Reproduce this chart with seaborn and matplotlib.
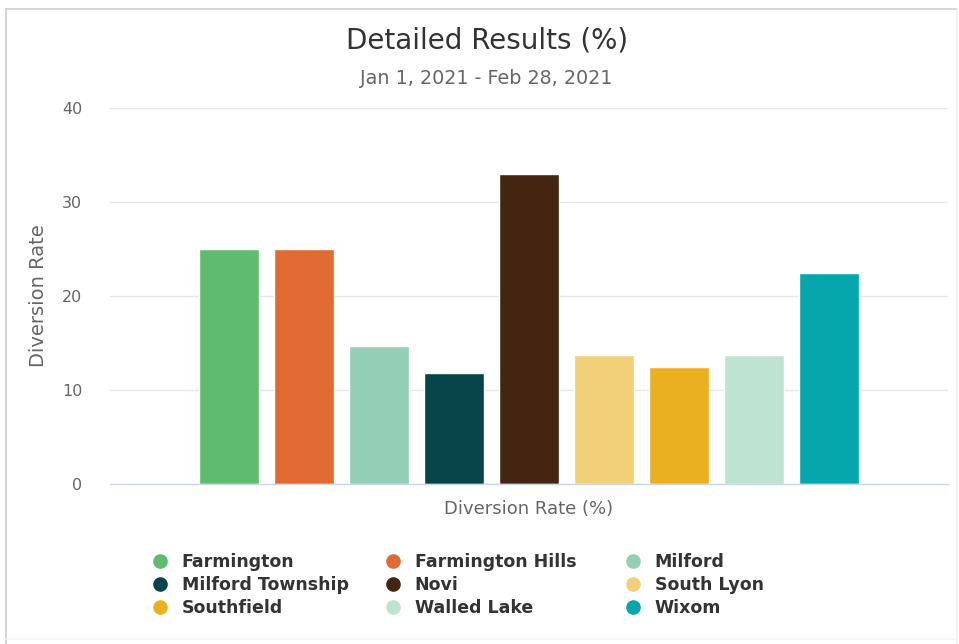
import matplotlib
matplotlib.use("Agg")
import matplotlib.pyplot as plt
from matplotlib.lines import Line2D
import seaborn as sns
import pandas as pd

cities = ["Farmington", "Farmington Hills", "Milford", "Milford Township", "Novi",
          "South Lyon", "Southfield", "Walled Lake", "Wixom"]
values = [25.0, 25.0, 14.7, 11.8, 33.0, 13.7, 12.5, 13.7, 22.4]
colors = ["#5fbb6e", "#e06a32", "#93cfb5", "#07444a", "#432512",
          "#f2d07a", "#ebb022", "#bfe3d3", "#06a6ad"]
category = "Diversion Rate (%)"
yticks = [0, 10, 20, 30, 40]

sns.set_theme(style="white")
plt.rcParams["font.family"] = ["DejaVu Sans"]

W, H = 959, 644
fig = plt.figure(figsize=(W / 100, H / 100), dpi=100)
fig.patch.set_facecolor("white")

def fx(px):
    return px / W

def fy(py):
    return 1 - py / H

ax = fig.add_axes([fx(110), fy(484), 838 / W, 376 / H])

df = pd.DataFrame({"cat": [category] * len(cities), "city": cities, "value": values})
sns.barplot(data=df, x="cat", y="value", hue="city", hue_order=cities,
            palette=colors, width=0.8055, gap=0.213, saturation=1,
            legend=False, ax=ax, errorbar=None)

ax.set_ylim(0, 40)
ax.set_xlim(-0.5, 0.5)
ax.set_yticks(yticks)
ax.set_yticklabels([str(t) for t in yticks], fontsize=11.5, color="#666666")
ax.yaxis.grid(True, color="#e6e6e6", linewidth=1)
ax.set_axisbelow(True)
for s in ["top", "right", "left"]:
    ax.spines[s].set_visible(False)
ax.spines["bottom"].set_color("#ccd6eb")
ax.spines["bottom"].set_linewidth(1)
ax.tick_params(axis="y", length=0, pad=20)
ax.tick_params(axis="x", length=0, pad=11.5)
for lab in ax.get_xticklabels():
    lab.set_fontsize(13)
    lab.set_color("#666666")
ax.set_xlabel("")
ax.set_ylabel("Diversion Rate", fontsize=14, color="#666666")
ax.yaxis.set_label_coords(-0.074, 0.5)

fig.text(fx(487), fy(48), "Detailed Results (%)", ha="center", va="baseline",
         fontsize=20, color="#333333")
fig.text(fx(486), fy(84), "Jan 1, 2021 - Feb 28, 2021", ha="center", va="baseline",
         fontsize=13.8, color="#666666")

# legend in three columns, row-major order as in reference
col_x = [151.3, 384.3, 624.3]
for c in range(3):
    idx = [c, c + 3, c + 6]
    handles = [Line2D([], [], marker="o", linestyle="", markersize=9.5,
                      markerfacecolor=colors[i], markeredgecolor=colors[i]) for i in idx]
    labels = [cities[i] for i in idx]
    leg = fig.legend(handles, labels, loc="upper left",
                     bbox_to_anchor=(fx(col_x[c]), fy(553)),
                     frameon=False, borderpad=0, borderaxespad=0,
                     handlelength=1.0, handletextpad=0.76, labelspacing=0.3,
                     prop={"weight": "bold", "size": 12.5})
    for t in leg.get_texts():
        t.set_color("#333333")

# card border: stronger top/left, faint right/bottom
fig.add_artist(Line2D([fx(6), fx(957)], [fy(9), fy(9)], transform=fig.transFigure,
                      color="#d6d6d6", linewidth=1.5))
fig.add_artist(Line2D([fx(6), fx(6)], [fy(9), fy(644)], transform=fig.transFigure,
                      color="#d6d6d6", linewidth=1.5))
fig.add_artist(Line2D([fx(957), fx(957)], [fy(9), fy(644)], transform=fig.transFigure,
                      color="#f0f0f0", linewidth=1.2))
fig.add_artist(Line2D([fx(6), fx(957)], [fy(639), fy(639)], transform=fig.transFigure,
                      color="#f3f3f3", linewidth=1.2))

fig.savefig("out.png", dpi=100, facecolor="white")
